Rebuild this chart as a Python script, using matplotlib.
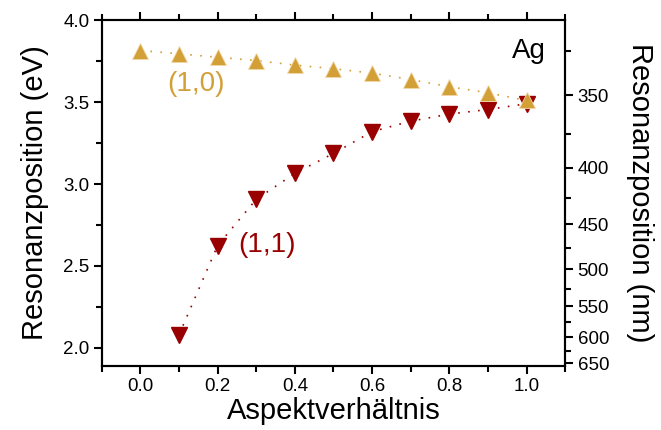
import matplotlib
matplotlib.use("Agg")
import matplotlib.pyplot as plt
import numpy as np
from matplotlib.ticker import MultipleLocator, FixedLocator

plt.rcParams["font.family"] = ["Liberation Sans", "DejaVu Sans"]

# aspect ratio and resonance positions (eV)
aspekt = [0.0, 0.1, 0.2, 0.3, 0.4, 0.5, 0.6, 0.7, 0.8, 0.9, 1.0]
mode_10 = [3.815, 3.795, 3.774, 3.754, 3.726, 3.704, 3.677, 3.638, 3.594, 3.557, 3.51]
aspekt_11 = [0.1, 0.2, 0.3, 0.4, 0.5, 0.6, 0.7, 0.8, 0.9, 1.0]
mode_11 = [2.08, 2.625, 2.907, 3.065, 3.187, 3.32, 3.384, 3.427, 3.455, 3.49]

nm_major = [350, 400, 450, 500, 550, 600, 650]
nm_minor = [325, 375, 425, 475, 525, 575, 625]

gold = "#D39F37"
red = "#990000"

fig = plt.figure(figsize=(6.61, 4.30), dpi=100)
ax = fig.add_axes([0.154, 0.149, 0.701, 0.804])

ax.plot(aspekt_11, mode_11, linestyle=(0, (1, 5)), lw=1.2, color=red,
        marker="v", markersize=12, markeredgecolor=red)
ax.plot(aspekt, mode_10, linestyle=(0, (1, 5)), lw=1.2, color=gold,
        marker="^", markersize=12, markeredgecolor="#F0D9A8", markeredgewidth=0.6)

ax.set_xlim(-0.1, 1.1)
ax.set_ylim(1.89, 4.0)
ax.xaxis.set_major_locator(MultipleLocator(0.2))
ax.xaxis.set_minor_locator(MultipleLocator(0.1))
ax.yaxis.set_major_locator(MultipleLocator(0.5))
ax.yaxis.set_minor_locator(MultipleLocator(0.25))
ax.xaxis.set_major_formatter(matplotlib.ticker.FormatStrFormatter("%.1f"))
ax.yaxis.set_major_formatter(matplotlib.ticker.FormatStrFormatter("%.1f"))

ax.tick_params(which="both", direction="out", top=True, right=False, labelsize=13.5, width=1.5)
ax.tick_params(which="major", length=6, pad=3)
ax.tick_params(which="minor", length=4)
for s in ax.spines.values():
    s.set_linewidth(1.5)

ax.set_xlabel("Aspektverhältnis", fontsize=21, labelpad=1)
ax.set_ylabel("Resonanzposition (eV)", fontsize=21, labelpad=10)

ax2 = ax.twinx()
ax2.set_ylim(ax.get_ylim())
ax2.yaxis.set_major_locator(FixedLocator([1239.84 / v for v in nm_major]))
ax2.yaxis.set_minor_locator(FixedLocator([1239.84 / v for v in nm_minor]))
ax2.set_yticklabels([str(v) for v in nm_major])
ax2.tick_params(which="both", direction="out", labelsize=13.5, width=1.5)
ax2.tick_params(which="major", length=6, pad=3)
ax2.tick_params(which="minor", length=4)
for s in ax2.spines.values():
    s.set_linewidth(1.5)
ax2.set_ylabel("Resonanzposition (nm)", fontsize=21, rotation=270, labelpad=32)

ax.text(0.145, 3.608, "(1,0)", color=gold, fontsize=20, ha="center", va="center")
ax.text(0.327, 2.626, "(1,1)", color=red, fontsize=20, ha="center", va="center")
ax.text(1.005, 3.815, "Ag", color="black", fontsize=20, ha="center", va="center")

fig.savefig("out.png", dpi=100)
